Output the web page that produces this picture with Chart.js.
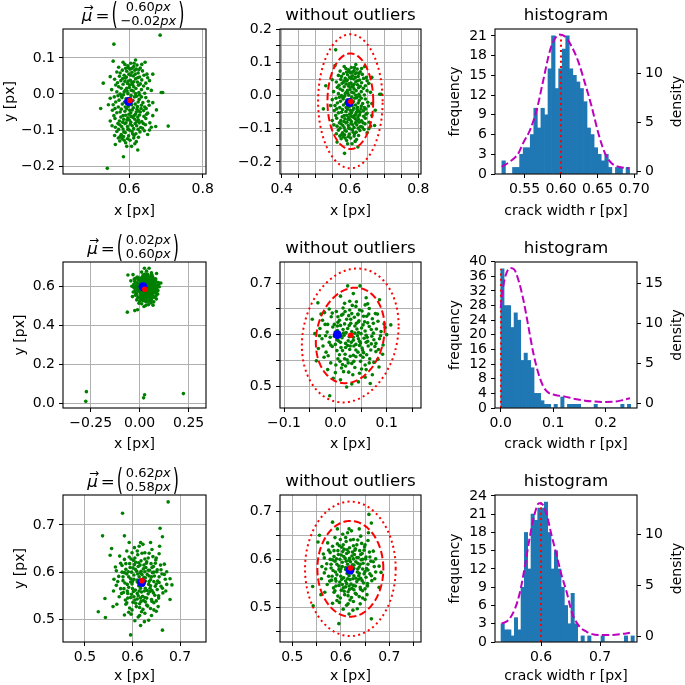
<!DOCTYPE html>
<html><head><meta charset="utf-8">
<script src="https://cdn.jsdelivr.net/npm/chart.js@4.4.1/dist/chart.umd.min.js"></script>
<style>
html,body{margin:0;padding:0;background:#fff;}
#wrap{position:relative;width:685px;height:685px;overflow:hidden;background:#fff;}
#wrap canvas{position:absolute;left:0;top:0;}
</style></head>
<body><div id="wrap"></div>
<script>
// ---------------- data ----------------
const pts1 = [
[0.556,0.091],[0.588,0.082],[0.596,0.078],[0.604,0.085],[0.612,0.076],[0.621,0.080],[0.630,0.072],[0.643,0.088],[0.602,0.069],[0.571,0.074],
[0.566,0.061],[0.581,0.066],[0.593,0.063],[0.607,0.060],[0.615,0.066],[0.624,0.058],[0.636,0.064],[0.648,0.055],[0.599,0.055],[0.586,0.052],[0.573,0.049],[0.611,0.050],[0.628,0.047],
[0.560,0.041],[0.577,0.037],[0.590,0.044],[0.603,0.038],[0.617,0.042],[0.622,0.033],[0.634,0.039],[0.645,0.030],[0.595,0.029],[0.583,0.027],[0.609,0.026],[0.568,0.031],[0.529,0.030],[0.655,0.037],[0.639,0.022],
[0.552,0.012],[0.566,0.006],[0.578,0.016],[0.589,0.010],[0.600,0.018],[0.611,0.008],[0.618,0.015],[0.626,0.004],[0.633,0.012],[0.642,0.002],[0.596,0.001],[0.605,-0.004],[0.584,-0.002],[0.575,0.000],[0.687,0.004],[0.691,0.004],[0.664,-0.024],[0.612,0.020],[0.620,-0.006],[0.559,-0.008],
[0.548,-0.012],[0.563,-0.022],[0.572,-0.017],[0.581,-0.028],[0.591,-0.013],[0.610,-0.018],[0.616,-0.028],[0.627,-0.015],[0.637,-0.024],[0.645,-0.010],[0.654,-0.031],[0.597,-0.034],[0.606,-0.030],[0.587,-0.022],[0.622,-0.035],[0.570,-0.036],
[0.522,-0.040],[0.554,-0.045],[0.566,-0.052],[0.578,-0.042],[0.588,-0.048],[0.599,-0.056],[0.608,-0.044],[0.619,-0.050],[0.628,-0.058],[0.639,-0.046],[0.650,-0.053],[0.674,-0.044],[0.593,-0.041],[0.613,-0.060],[0.583,-0.060],[0.558,-0.060],[0.632,-0.040],
[0.561,-0.068],[0.573,-0.075],[0.585,-0.070],[0.596,-0.066],[0.604,-0.078],[0.615,-0.070],[0.623,-0.064],[0.634,-0.076],[0.645,-0.068],[0.656,-0.080],[0.591,-0.080],[0.610,-0.065],[0.627,-0.080],[0.577,-0.064],[0.640,-0.062],
[0.553,-0.088],[0.562,-0.092],[0.574,-0.085],[0.583,-0.097],[0.595,-0.090],[0.603,-0.084],[0.612,-0.096],[0.620,-0.088],[0.631,-0.093],[0.644,-0.085],[0.660,-0.092],[0.672,-0.090],[0.706,-0.089],[0.588,-0.082],[0.616,-0.082],
[0.566,-0.104],[0.578,-0.112],[0.589,-0.107],[0.598,-0.116],[0.607,-0.103],[0.618,-0.110],[0.629,-0.105],[0.641,-0.102],[0.650,-0.112],[0.584,-0.118],
[0.562,-0.140],[0.574,-0.130],[0.580,-0.124],[0.590,-0.135],[0.602,-0.128],[0.612,-0.122],[0.619,-0.132],[0.623,-0.155],[0.606,-0.145],[0.570,-0.122],
[0.684,0.163],[0.558,0.138],[0.540,-0.206],[0.584,-0.174],[0.617,0.094],
[0.598,0.072],[0.607,0.071],[0.619,0.069],[0.592,0.047],[0.604,0.052],[0.616,0.055],[0.623,0.045],[0.588,0.035],[0.612,0.034],[0.601,0.025],
[0.625,0.024],[0.593,0.016],[0.606,0.010],[0.617,0.001],[0.628,-0.002],[0.586,0.006],[0.603,-0.012],[0.614,-0.008],[0.624,-0.022],[0.593,-0.025],
[0.580,-0.010],[0.633,-0.031],[0.611,-0.038],[0.601,-0.045],[0.621,-0.042],[0.589,-0.036],[0.575,-0.050],[0.605,-0.062],[0.617,-0.056],[0.630,-0.050],
[0.594,-0.072],[0.608,-0.088],[0.625,-0.072],[0.579,-0.090],[0.638,-0.082],[0.600,-0.100],[0.613,-0.115],[0.585,-0.105],[0.624,-0.098],[0.595,-0.124],
[0.571,-0.098],[0.646,-0.040],[0.652,-0.020],[0.660,0.010],[0.650,0.045],[0.563,0.025],[0.569,-0.005],[0.556,-0.030],[0.548,-0.075],[0.560,-0.115],
[0.575,0.058],[0.590,0.071],[0.613,0.085],[0.626,0.067],[0.640,0.052],[0.582,0.043],[0.597,0.036],[0.630,0.028],[0.571,0.020],[0.650,0.015],
[0.594,0.008],[0.607,0.031],[0.579,-0.006],[0.598,-0.018],[0.633,-0.008],[0.642,-0.036],[0.561,-0.040],[0.604,-0.052],[0.626,-0.047],[0.590,-0.059],
[0.647,-0.056],[0.569,-0.082],[0.600,-0.072],[0.620,-0.076],[0.582,-0.078],[0.636,-0.095],[0.596,-0.098],[0.609,-0.110],[0.575,-0.118],[0.625,-0.120],
[0.593,-0.145],[0.615,-0.138],[0.586,-0.128],[0.655,-0.100],[0.664,-0.060],[0.543,-0.030],[0.548,0.048],[0.664,0.055],[0.634,0.082],[0.583,0.088]
];
const pts2 = [
[0.024,0.695],[0.048,0.695],[0.086,0.668],[0.010,0.675],[0.035,0.680],[0.060,0.672],[-0.034,0.662],[0.041,0.664],[0.018,0.661],
[-0.012,0.650],[0.002,0.645],[0.015,0.652],[0.028,0.648],[0.040,0.655],[0.052,0.646],[0.066,0.651],[0.078,0.641],[0.032,0.641],[0.058,0.658],[-0.021,0.643],
[-0.045,0.630],[-0.025,0.628],[-0.008,0.635],[0.005,0.624],[0.012,0.638],[0.022,0.630],[0.030,0.622],[0.037,0.634],[0.046,0.627],[0.055,0.636],[0.063,0.623],[0.072,0.631],[0.083,0.626],[0.018,0.621],[0.044,0.639],[0.095,0.621],[0.108,0.619],[-0.002,0.620],
[-0.030,0.612],[-0.016,0.605],[-0.005,0.615],[0.004,0.608],[0.010,0.618],[0.016,0.603],[0.024,0.612],[0.032,0.606],[0.038,0.617],[0.045,0.604],[0.051,0.613],[0.058,0.607],[0.066,0.616],[0.074,0.603],[0.080,0.611],[0.089,0.606],[0.027,0.618],[0.042,0.611],[0.007,0.601],[0.054,0.619],[-0.040,0.602],[0.097,0.614],
[-0.026,0.592],[-0.012,0.585],[-0.002,0.597],[0.006,0.588],[0.013,0.594],[0.020,0.583],[0.027,0.596],[0.035,0.589],[0.043,0.598],[0.049,0.584],[0.056,0.593],[0.063,0.587],[0.071,0.597],[0.079,0.583],[0.086,0.592],[0.017,0.599],[0.040,0.581],[0.060,0.599],[0.000,0.581],[-0.019,0.598],[0.031,0.585],[0.075,0.590],
[-0.033,0.573],[-0.018,0.566],[-0.006,0.577],[0.003,0.569],[0.011,0.575],[0.019,0.562],[0.028,0.571],[0.036,0.578],[0.044,0.566],[0.052,0.574],[0.061,0.561],[0.069,0.570],[0.077,0.577],[0.092,0.562],[0.024,0.579],[0.047,0.579],[0.008,0.561],[0.064,0.578],[0.084,0.571],
[-0.037,0.549],[-0.022,0.556],[-0.009,0.545],[0.005,0.553],[0.014,0.542],[0.023,0.551],[0.032,0.544],[0.040,0.557],[0.049,0.548],[0.058,0.541],[0.067,0.553],[0.075,0.546],[0.029,0.558],[0.054,0.556],[0.083,0.552],
[-0.015,0.532],[0.000,0.526],[0.012,0.535],[0.026,0.527],[0.038,0.536],[0.047,0.525],[0.060,0.532],[0.072,0.522],[0.020,0.539],[0.085,0.537],
[-0.011,0.481],[0.032,0.504],[0.010,0.512],[0.045,0.508],[0.058,0.517],[0.022,0.498],[-0.004,0.515],[0.068,0.505],
[0.015,0.610],[0.035,0.595],[0.025,0.588],[0.045,0.592],[0.010,0.585],[0.050,0.602],[0.030,0.630],[0.020,0.575],[0.040,0.570],[0.000,0.605],
[0.060,0.585],[0.035,0.560],[0.015,0.640],[0.070,0.610],[-0.010,0.595],[0.055,0.565],[0.025,0.545],[0.045,0.625],[0.005,0.635],[0.065,0.640],
[0.008,0.628],[0.019,0.645],[0.033,0.657],[0.047,0.648],[0.061,0.636],[0.074,0.622],[0.088,0.598],[0.079,0.567],[0.066,0.545],[0.051,0.533],
[0.034,0.522],[0.016,0.528],[0.001,0.541],[-0.014,0.559],[-0.024,0.578],[-0.031,0.598],[-0.020,0.620],[-0.006,0.642],[0.012,0.596],[0.021,0.604],
[0.038,0.603],[0.047,0.587],[0.029,0.578],[0.014,0.569],[0.053,0.570],[0.062,0.595],[0.041,0.622],[0.026,0.637],[0.004,0.617],[-0.009,0.580],
[0.057,0.625],[0.070,0.582],[0.036,0.548],[0.018,0.553],[0.003,0.590],[0.044,0.640],[0.082,0.640],[-0.015,0.620],[0.093,0.580],[0.063,0.660],
[0.009,0.548],[0.049,0.560],[0.028,0.665],[-0.028,0.640],[0.100,0.600],
[-0.063,0.469],[-0.025,0.477],[-0.060,0.660],
[-0.275,0.010],[-0.272,0.060],[0.020,0.028],[0.025,0.044],[0.223,0.050]
];
const pts3 = [
[0.675,0.749],[0.579,0.725],[0.537,0.677],[0.583,0.677],[0.658,0.693],[0.663,0.675],[0.593,0.663],[0.617,0.663],[0.638,0.663],[0.556,0.650],[0.553,0.636],[0.564,0.611],
[0.528,0.516],[0.542,0.544],[0.543,0.504],[0.559,0.527],[0.567,0.532],[0.583,0.509],[0.596,0.467],[0.617,0.487],[0.663,0.477],[0.679,0.542],[0.683,0.573],[0.679,0.586],[0.672,0.601],[0.667,0.617],
[0.573,0.634],[0.588,0.645],[0.597,0.628],[0.604,0.652],[0.611,0.637],[0.618,0.624],[0.626,0.641],[0.633,0.630],[0.641,0.648],[0.649,0.626],[0.656,0.639],[0.599,0.641],[0.614,0.655],[0.630,0.622],[0.622,0.659],[0.607,0.621],[0.643,0.633],[0.583,0.627],[0.657,0.655],
[0.566,0.603],[0.578,0.614],[0.586,0.606],[0.594,0.618],[0.601,0.609],[0.609,0.602],[0.616,0.615],[0.623,0.607],[0.629,0.619],[0.636,0.604],[0.644,0.612],[0.651,0.601],[0.659,0.615],[0.591,0.601],[0.613,0.620],[0.639,0.618],[0.604,0.616],[0.626,0.601],[0.648,0.619],[0.575,0.619],
[0.571,0.591],[0.580,0.582],[0.588,0.596],[0.596,0.586],[0.603,0.594],[0.610,0.583],[0.617,0.598],[0.624,0.589],[0.631,0.595],[0.638,0.584],[0.646,0.592],[0.653,0.581],[0.662,0.596],[0.583,0.599],[0.600,0.580],[0.614,0.590],[0.627,0.581],[0.642,0.599],[0.669,0.585],[0.561,0.585],[0.635,0.592],
[0.566,0.572],[0.575,0.565],[0.584,0.577],[0.592,0.568],[0.599,0.575],[0.606,0.562],[0.613,0.571],[0.620,0.578],[0.627,0.566],[0.634,0.574],[0.641,0.561],[0.648,0.570],[0.656,0.578],[0.663,0.566],[0.672,0.574],[0.589,0.560],[0.610,0.579],[0.631,0.561],[0.652,0.563],[0.596,0.579],[0.617,0.566],
[0.572,0.548],[0.581,0.557],[0.590,0.545],[0.598,0.553],[0.605,0.541],[0.612,0.550],[0.619,0.558],[0.626,0.546],[0.633,0.554],[0.640,0.542],[0.647,0.551],[0.655,0.545],[0.664,0.556],[0.602,0.559],[0.623,0.540],[0.637,0.559],[0.585,0.541],[0.610,0.543],[0.650,0.539],
[0.586,0.532],[0.594,0.524],[0.601,0.536],[0.608,0.527],[0.615,0.533],[0.622,0.521],[0.630,0.530],[0.638,0.523],[0.645,0.535],[0.654,0.527],[0.618,0.538],[0.599,0.520],[0.641,0.538],[0.627,0.537],
[0.597,0.511],[0.612,0.505],[0.626,0.513],[0.640,0.508],[0.650,0.517],[0.605,0.497],[0.634,0.498],[0.619,0.516],
[0.592,0.590],[0.606,0.606],[0.620,0.595],[0.628,0.610],[0.615,0.580],[0.600,0.565],[0.635,0.580],[0.610,0.555],[0.625,0.560],[0.640,0.590],
[0.595,0.610],[0.645,0.600],[0.605,0.630],[0.620,0.640],[0.590,0.555],[0.630,0.545],[0.615,0.525],[0.650,0.575],[0.580,0.590],[0.660,0.605],
[0.612,0.612],[0.622,0.572],[0.603,0.548],[0.637,0.566],[0.618,0.602],
[0.586,0.618],[0.598,0.600],[0.611,0.596],[0.624,0.615],[0.633,0.604],[0.645,0.580],[0.656,0.590],[0.603,0.585],[0.589,0.574],[0.627,0.588],
[0.638,0.571],[0.614,0.560],[0.596,0.546],[0.621,0.549],[0.644,0.556],[0.607,0.534],[0.632,0.528],[0.577,0.555],[0.569,0.580],[0.660,0.570],
[0.650,0.630],[0.610,0.645],[0.593,0.632],[0.635,0.640],[0.578,0.600],[0.667,0.595],[0.615,0.508],[0.645,0.520],[0.592,0.515],[0.655,0.550],
[0.602,0.625],[0.626,0.628],[0.617,0.545],[0.641,0.610],[0.582,0.565],[0.670,0.560],[0.560,0.560],[0.625,0.495],[0.588,0.535],[0.652,0.605]
];
// mean markers
const blue1 = [0.598,-0.021], red1 = [0.602,-0.018];
const blue2L = [0.017,0.600], red2L = [0.026,0.587];
const blue2M = [0.004,0.600], red2M = [0.030,0.599];
const blue3 = [0.619,0.578], red3 = [0.620,0.582];
// ellipses: cx, cy, dashed sx, dashed sy, dotted sx, dotted sy, correlation
const ell1 = [0.601,-0.017,0.067,0.144,0.0945,0.202,0];
const ell2 = [0.029,0.5985,0.067,0.093,0.0942,0.1304,0.15];
const ell3 = [0.6197,0.5805,0.068,0.099,0.0935,0.139,0];
// title vectors
const mu1 = ['0.60','\u22120.02'], mu2 = ['0.02','0.60'], mu3 = ['0.62','0.58'];
// axis limits
const lim1Lx=[0.4193,0.809], lim1Ly=[-0.2216,0.18];
const lim1Mx=[0.395,0.8079], lim1My=[-0.2362,0.2009];
const lim1Hx=[0.5096,0.7041], lim1Hf=[0,22.05], lim1Hd=[-0.254,14.47];
const lim2Lx=[-0.3913,0.3383], lim2Ly=[-0.0242,0.7271];
const lim2Mx=[-0.1078,0.1668], lim2My=[0.4572,0.7415];
const lim2Hx=[-0.0109,0.2596], lim2Hf=[0,39.9], lim2Hd=[-0.59,17.66];
const lim3Lx=[0.4537,0.7547], lim3Ly=[0.4519,0.7636];
const lim3Mx=[0.4746,0.7654], lim3My=[0.4291,0.7331];
const lim3Hx=[0.522,0.7627], lim3Hf=[0,24.15], lim3Hd=[-0.516,13.8];
// ticks
const t1Lx=[0.6,0.8], t1Ly=[-0.2,-0.1,0,0.1];
const t1Mx=[0.4,0.6,0.8], t1Mxm=[0.45,0.5,0.55,0.65,0.7,0.75], t1My=[-0.2,-0.1,0,0.1,0.2], t1Mym=[-0.15,-0.05,0.05,0.15];
const t1Hx=[0.55,0.60,0.65,0.70], t1Hf=[0,3,6,9,12,15,18,21], t1Hd=[0,5,10];
const t2Lx=[-0.25,0,0.25], t2Ly=[0,0.2,0.4,0.6];
const t2Mx=[-0.1,0,0.1], t2Mxm=[-0.05,0.05,0.15], t2My=[0.5,0.6,0.7], t2Mym=[0.55,0.65];
const t2Hx=[0,0.1,0.2], t2Hf=[0,4,8,12,16,20,24,28,32,36,40], t2Hd=[0,5,10,15];
const t3Lx=[0.5,0.6,0.7], t3Ly=[0.5,0.6,0.7];
const t3Mx=[0.5,0.6,0.7], t3Mxm=[0.55,0.65,0.75], t3My=[0.5,0.6,0.7], t3Mym=[0.45,0.55,0.65];
const t3Hx=[0.6,0.7], t3Hf=[0,3,6,9,12,15,18,21,24], t3Hd=[0,5,10];
// histograms
const hist1Start=0.519, hist1Width=0.00486;
const hist1Counts=[2,0,0,1,1,3,4,4,6,10,7,10,9,16,21,13,16,19,21,16,15,14,13,11,7,6,4,3,2,3,1,0,1,1,0,1];
const hist2Start=0.0, hist2Width=0.00635;
const hist2Counts=[38,28,28,22,26,24,13,15,13,11,4,4,2,1,1,0,1,0,3,0,1,1,1,1,0,0,0,0,1,0,0,0,0,0,0,0,1,0,1];
const hist3Start=0.5322, hist3Width=0.00565;
const hist3Counts=[3,2,2,1,4,2,9,18,12,21,20,22,22,23,18,12,15,12,9,6,3,8,3,0,1,0,1,0,0,0,1,0,0,0,0,0,0,1,0,1];
const dens1X=[0.5187,0.530,0.5416,0.548,0.5575,0.5667,0.5758,0.585,0.5918,0.5973,0.6055,0.6146,0.6237,0.6329,0.642,0.6511,0.6603,0.6694,0.6785,0.6932];
const dens1Y=[0.49,1.0,1.84,2.86,4.2,6.24,9.3,12.3,13.5,13.9,13.7,12.7,11.15,8.95,6.6,3.9,1.84,0.83,0.49,0.32];
const dens2X=[0,0.0038,0.0095,0.0178,0.026,0.0337,0.0432,0.0527,0.0622,0.0717,0.0813,0.0908,0.1035,0.1225,0.1416,0.1606,0.1797,0.1987,0.2178,0.2337,0.2463];
const dens2Y=[11.9,14.2,16.0,16.9,16.7,15.4,12.9,9.6,6.25,3.75,2.08,1.33,1.04,0.83,0.54,0.33,0.21,0.17,0.21,0.42,0.63];
const dens3X=[0.5333,0.5446,0.5559,0.5644,0.5729,0.5814,0.5898,0.5966,0.6023,0.6096,0.6181,0.6266,0.635,0.6435,0.652,0.6633,0.6774,0.6972,0.7198,0.7367,0.7508];
const dens3Y=[1.29,1.61,2.74,4.35,6.94,9.84,12.1,13.0,12.9,11.9,9.84,7.9,5.97,4.35,2.42,1.13,0.48,0.16,0.16,0.26,0.39];
const meanLine1=[0.600,21], meanLine2=[0.0005,38], meanLine3=[0.600,23];

// ---------------- layout ----------------
const FONT = '"DejaVu Sans", sans-serif';
Chart.defaults.font.family = FONT;
Chart.defaults.font.size = 14;
Chart.defaults.color = '#000';
const WIDTH = 685;
const COLS = [[63,206],[280,421],[495,637]];
const ROWS = [[29,174],[262,408],[495,642]];
const XT_OFF = [41, 39.5, 38];
const YLAB_X = [13.5, 24, 24];
const YAXW = 45, XAXH = 40;

function fmt(v,d){ if(Math.abs(v)<1e-9) v=0; return (v<0?'\u2212':'')+Math.abs(v).toFixed(d); }

function linAxis(pos, lim, majors, minors, dec, gridOn){
  const all = majors.concat(minors||[]).sort((a,b)=>a-b);
  return {
    type:'linear', position:pos, min:lim[0], max:lim[1], offset:false, bounds:'data',
    afterBuildTicks: s => { s.ticks = all.map(v=>({value:v})); },
    afterFit: s => { if(pos==='bottom') s.height = XAXH; else s.width = YAXW; },
    ticks:{ autoSkip:false, maxRotation:0, minRotation:0, padding: pos==='bottom'?3:4, color:'#000',
      font:{family:FONT,size:14},
      callback: v => majors.some(m=>Math.abs(m-v)<1e-9) ? fmt(v,dec) : '' },
    grid:{ display:true, drawOnChartArea:gridOn, drawTicks:true, color:'#b0b0b0', lineWidth:1,
      tickColor:'#000', tickLength:4, tickWidth:1, offset:false },
    border:{ display:false }
  };
}

function pad(r,c,hasRight){
  return {left:COLS[c][0]-YAXW, right:WIDTH-COLS[c][1]-(hasRight?YAXW:0), top:ROWS[r][0], bottom:WIDTH-ROWS[r][1]-XAXH};
}

function addChart(cfg){
  const c=document.createElement('canvas');
  c.width=WIDTH; c.height=WIDTH; c.style.width=WIDTH+'px'; c.style.height=WIDTH+'px';
  document.getElementById('wrap').appendChild(c);
  Object.assign(cfg.options,{responsive:false, maintainAspectRatio:false, animation:false, events:[], devicePixelRatio:1});
  cfg.options.plugins = {legend:{display:false}, tooltip:{enabled:false}, title:{display:false}};
  return new Chart(c.getContext('2d'), cfg);
}

function vtext(ctx,s,x,y){
  ctx.save(); ctx.translate(x,y); ctx.rotate(-Math.PI/2);
  ctx.font='14px '+FONT; ctx.textAlign='center'; ctx.textBaseline='alphabetic';
  ctx.fillText(s,0,0); ctx.restore();
}

function drawMu(ctx,cx,top,mu){
  const fE='13px '+FONT, fEI='italic 13px '+FONT;
  const ew = s => { ctx.font=fE; const a=ctx.measureText(s).width; ctx.font=fEI; return a+ctx.measureText('px').width; };
  const wE=Math.max(ew(mu[0]),ew(mu[1]));
  ctx.font='italic 16.7px '+FONT; const wMu=ctx.measureText('\u03bc').width;
  ctx.font='16.7px '+FONT; const wEq=ctx.measureText('=').width;
  const gap1=3, gap2=2, wPar=7;
  const total=wMu+gap1+wEq+gap2+wPar+2+wE+2+wPar;
  let x=cx-1-total/2;
  ctx.textBaseline='alphabetic'; ctx.textAlign='left';
  ctx.font='italic 16.7px '+FONT; ctx.fillText('\u03bc',x,top-8);
  ctx.font='12px '+FONT; ctx.textAlign='center'; ctx.fillText('\u2192',x+wMu/2+1.5,top-18.5);
  ctx.textAlign='left';
  x+=wMu+gap1;
  ctx.font='16.7px '+FONT; ctx.fillText('=',x,top-8);
  x+=wEq+gap2;
  const paren=(ch,px)=>{ ctx.save(); ctx.translate(px,top-4.9); ctx.scale(1,1.85); ctx.font='16px '+FONT; ctx.textAlign='left'; ctx.fillText(ch,0,0); ctx.restore(); };
  paren('(',x);
  x+=wPar+2;
  const ex=x+wE/2;
  const entry=(s,y)=>{ ctx.font=fE; const a=ctx.measureText(s).width; ctx.font=fEI; const b=ctx.measureText('px').width;
    const sx=ex-(a+b)/2; ctx.font=fE; ctx.fillText(s,sx,y); ctx.font=fEI; ctx.fillText('px',sx+a,y); };
  entry(mu[0],top-18); entry(mu[1],top-4);
  x+=wE+2;
  paren(')',x);
}

function drawEllipses(chart,e){
  const ctx=chart.ctx, xs=chart.scales.x, ys=chart.scales.y, a=chart.chartArea;
  ctx.save(); ctx.beginPath(); ctx.rect(a.left,a.top,a.right-a.left,a.bottom-a.top); ctx.clip();
  ctx.strokeStyle='#ff0000'; ctx.lineWidth=2;
  const k=Math.sqrt(1-e[6]*e[6]);
  [[e[2],e[3],[7.4,3.2]],[e[4],e[5],[2,3.3]]].forEach(([sx,sy,dash])=>{
    ctx.setLineDash(dash); ctx.beginPath();
    for(let i=0;i<=200;i++){
      const t=i/200*2*Math.PI;
      const px=xs.getPixelForValue(e[0]+sx*Math.cos(t));
      const py=ys.getPixelForValue(e[1]+sy*(e[6]*Math.cos(t)+k*Math.sin(t)));
      if(i===0) ctx.moveTo(px,py); else ctx.lineTo(px,py);
    }
    ctx.stroke();
  });
  ctx.restore();
}

function overlay(r,opts){
  return {
    id:'overlay',
    afterDatasetsDraw(chart){ if(opts.ellipse) drawEllipses(chart,opts.ellipse); },
    afterDraw(chart){
      const ctx=chart.ctx, a=chart.chartArea;
      ctx.save();
      ctx.setLineDash([]);
      ctx.strokeStyle='#000'; ctx.lineWidth=1.1;
      ctx.strokeRect(a.left,a.top,a.right-a.left,a.bottom-a.top);
      ctx.fillStyle='#000';
      const cx=(a.left+a.right)/2, cy=(a.top+a.bottom)/2;
      if(opts.title){ ctx.font='16.7px '+FONT; ctx.textAlign='center'; ctx.textBaseline='alphabetic'; ctx.fillText(opts.title,cx,a.top-9); }
      if(opts.mu) drawMu(ctx,cx,a.top,opts.mu);
      if(opts.xlabel){ ctx.font='14px '+FONT; ctx.textAlign='center'; ctx.textBaseline='alphabetic'; ctx.fillText(opts.xlabel,cx,a.bottom+XT_OFF[r]); }
      if(opts.ylabel) vtext(ctx,opts.ylabel,opts.ylabelX,cy);
      if(opts.y2label) vtext(ctx,opts.y2label,opts.y2labelX,cy);
      ctx.restore();
    }
  };
}

function insideEllipse(p,e){
  const dx=(p[0]-e[0])/e[4], dy=(p[1]-e[1])/e[5], r=e[6];
  return (dx*dx-2*r*dx*dy+dy*dy)/(1-r*r) <= 1;
}

function scatterChart(r,c,pts,blue,red,lx,ly,tx,txm,ty,tym,dx,dy,opts){
  return addChart({
    type:'scatter',
    data:{datasets:[
      {data:pts.map(p=>({x:p[0],y:p[1]})), pointRadius:1.8, pointBackgroundColor:'#008000', pointBorderWidth:0, order:3},
      {data:[{x:blue[0],y:blue[1]}], pointRadius:4.5, pointBackgroundColor:'#0000ff', pointBorderWidth:0, order:2},
      {data:[{x:red[0],y:red[1]}], pointRadius:2.8, pointBackgroundColor:'#ff0000', pointBorderWidth:0, order:1}
    ]},
    options:{ layout:{padding:pad(r,c,false)},
      scales:{ x:linAxis('bottom',lx,tx,txm,dx,true), y:linAxis('left',ly,ty,tym,dy,true) } },
    plugins:[overlay(r,opts)]
  });
}

function histChart(r,start,bw,counts,dX,dY,vline,lx,lf,ld,tx,tf,td,dec){
  const bars=counts.map((n,i)=>({x:start+(i+0.5)*bw, y:n}));
  return addChart({
    type:'bar',
    data:{datasets:[
      {type:'bar', data:bars, backgroundColor:'#1f77b4', borderWidth:0, barPercentage:1, categoryPercentage:1, xAxisID:'x', yAxisID:'y', order:3},
      {type:'line', data:[{x:vline[0],y:0},{x:vline[0],y:vline[1]}], borderColor:'#ff0000', borderWidth:2, borderDash:[2,3.3], pointRadius:0, fill:false, xAxisID:'x', yAxisID:'y', order:2},
      {type:'line', data:dX.map((x,i)=>({x:x,y:dY[i]})), borderColor:'#bf00bf', borderWidth:2, borderDash:[7.4,3.2], pointRadius:0, fill:false, cubicInterpolationMode:'monotone', xAxisID:'x', yAxisID:'y2', order:1}
    ]},
    options:{ layout:{padding:pad(r,2,true)},
      scales:{ x:linAxis('bottom',lx,tx,[],dec,false), y:linAxis('left',lf,tf,[],0,false), y2:linAxis('right',ld,td,[],0,false) } },
    plugins:[overlay(r,{title:'histogram', xlabel:'crack width r [px]', ylabel:'frequency', ylabelX:458.5, y2label:'density', y2labelX:681})]
  });
}

// ---------------- row 1 ----------------
scatterChart(0,0,pts1,blue1,red1,lim1Lx,lim1Ly,t1Lx,[],t1Ly,[],1,1,{mu:mu1,xlabel:'x [px]',ylabel:'y [px]',ylabelX:YLAB_X[0]});
scatterChart(0,1,pts1.filter(p=>insideEllipse(p,ell1)),blue1,red1,lim1Mx,lim1My,t1Mx,t1Mxm,t1My,t1Mym,1,1,{title:'without outliers',xlabel:'x [px]',ellipse:ell1});
histChart(0,hist1Start,hist1Width,hist1Counts,dens1X,dens1Y,meanLine1,lim1Hx,lim1Hf,lim1Hd,t1Hx,t1Hf,t1Hd,2);
// ---------------- row 2 ----------------
scatterChart(1,0,pts2,blue2L,red2L,lim2Lx,lim2Ly,t2Lx,[],t2Ly,[],2,1,{mu:mu2,xlabel:'x [px]',ylabel:'y [px]',ylabelX:YLAB_X[1]});
scatterChart(1,1,pts2.filter(p=>insideEllipse(p,ell2)),blue2M,red2M,lim2Mx,lim2My,t2Mx,t2Mxm,t2My,t2Mym,1,1,{title:'without outliers',xlabel:'x [px]',ellipse:ell2});
histChart(1,hist2Start,hist2Width,hist2Counts,dens2X,dens2Y,meanLine2,lim2Hx,lim2Hf,lim2Hd,t2Hx,t2Hf,t2Hd,1);
// ---------------- row 3 ----------------
scatterChart(2,0,pts3,blue3,red3,lim3Lx,lim3Ly,t3Lx,[],t3Ly,[],1,1,{mu:mu3,xlabel:'x [px]',ylabel:'y [px]',ylabelX:YLAB_X[2]});
scatterChart(2,1,pts3.filter(p=>insideEllipse(p,ell3)),blue3,red3,lim3Mx,lim3My,t3Mx,t3Mxm,t3My,t3Mym,1,1,{title:'without outliers',xlabel:'x [px]',ellipse:ell3});
histChart(2,hist3Start,hist3Width,hist3Counts,dens3X,dens3Y,meanLine3,lim3Hx,lim3Hf,lim3Hd,t3Hx,t3Hf,t3Hd,1);
</script>
</body></html>
